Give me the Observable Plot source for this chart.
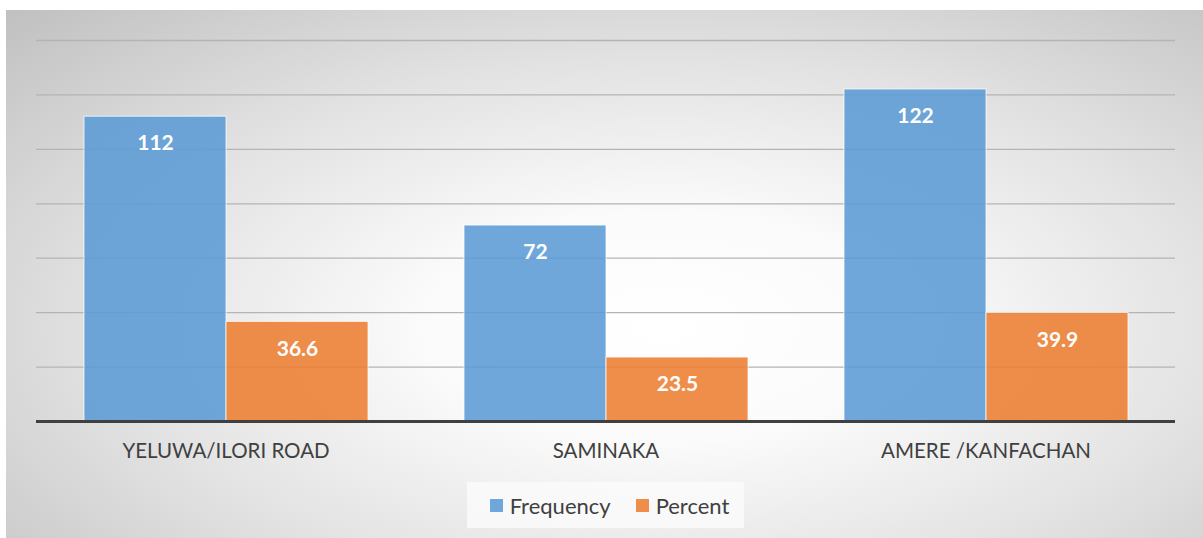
<!DOCTYPE html>
<html>
<head>
<meta charset="utf-8">
<script src="https://cdn.jsdelivr.net/npm/d3@7"></script>
<script src="https://cdn.jsdelivr.net/npm/@observablehq/plot@0.6"></script>
<style>
  html, body { margin: 0; padding: 0; background: #ffffff; }
  #wrap { position: relative; width: 1203px; height: 538px; overflow: hidden; font-family: Lato, "Open Sans", sans-serif; }
  #bg { position: absolute; left: 6px; top: 10px; right: 0; bottom: 0;
        background: radial-gradient(ellipse farthest-corner at 55% 60%, #ffffff 0%, #fbfbfb 25%, #e2e2e2 60%, #c0c0c0 100%); }
  .layer { position: absolute; left: 0; top: 0; }
  #legend { position: absolute; left: 467px; top: 482px; width: 277px; height: 46px; box-sizing: border-box; padding-left: 8px;
            background: rgba(250,250,250,0.85); display: flex; align-items: center; justify-content: center; gap: 25px; }
  .item { display: flex; align-items: center; font-size: 22px; color: #404040; }
  .sw { width: 13px; height: 13px; margin-right: 7px; }
</style>
</head>
<body>
<div id="wrap">
  <div id="bg"></div>
  <div id="grid" class="layer"></div>
  <div id="bars" class="layer"></div>
  <div id="base" class="layer"></div>
  <div id="legend"></div>
</div>
<script>
const categories = ["YELUWA/ILORI ROAD", "SAMINAKA", "AMERE /KANFACHAN"];
const series = ["Frequency", "Percent"];
const frequency = [112, 72, 122];
const percent = [36.6, 23.5, 39.9];
const yTicks = [0, 20, 40, 60, 80, 100, 120, 140];
const colors = ["#5B9BD5", "#ED7D31"];

const data = [];
categories.forEach((c, i) => {
  data.push({category: c, series: series[0], value: frequency[i]});
  data.push({category: c, series: series[1], value: percent[i]});
});

const common = {
  width: 1203,
  height: 478,
  marginLeft: 36,
  marginRight: 28,
  marginTop: 40,
  marginBottom: 57,
  style: {background: "transparent", fontFamily: "Lato, 'Open Sans', sans-serif", color: "#404040", overflow: "visible"},
  y: {domain: [0, 140], axis: null}
};

const gridPlot = Plot.plot({
  ...common,
  x: {domain: [0, 1], axis: null},
  marks: [
    Plot.ruleY(yTicks.slice(1), {stroke: "#b4b4b4", strokeWidth: 1.3})
  ]
});
document.getElementById("grid").appendChild(gridPlot);

const chart = Plot.plot({
  ...common,
  fx: {domain: categories, paddingInner: 0.25, paddingOuter: 0.12, label: null},
  x: {domain: series, padding: 0, axis: null},
  color: {domain: series, range: colors},
  marks: [
    Plot.barY(data, {fx: "category", x: "series", y: "value", fill: "series", fillOpacity: 0.88,
      stroke: "#ffffff", strokeOpacity: 0.75, strokeWidth: 1}),
    Plot.text(data, {fx: "category", x: "series", y: "value", text: d => String(d.value), dy: 27,
      fill: "#ffffff", fontWeight: "bold", fontSize: 21}),
    Plot.axisFx({anchor: "bottom", tickSize: 0, tickPadding: 22, fontSize: 20.5, label: null, fill: "#404040"})
  ]
});
document.getElementById("bars").appendChild(chart);

const basePlot = Plot.plot({
  ...common,
  x: {domain: [0, 1], axis: null},
  marks: [
    Plot.ruleY([0], {stroke: "#404040", strokeWidth: 3})
  ]
});
document.getElementById("base").appendChild(basePlot);

const legend = document.getElementById("legend");
series.forEach((s, i) => {
  const item = document.createElement("div");
  item.className = "item";
  const sw = document.createElement("div");
  sw.className = "sw";
  sw.style.background = colors[i];
  sw.style.opacity = 0.88;
  const t = document.createElement("span");
  t.textContent = s;
  item.appendChild(sw);
  item.appendChild(t);
  legend.appendChild(item);
});
</script>
</body>
</html>
